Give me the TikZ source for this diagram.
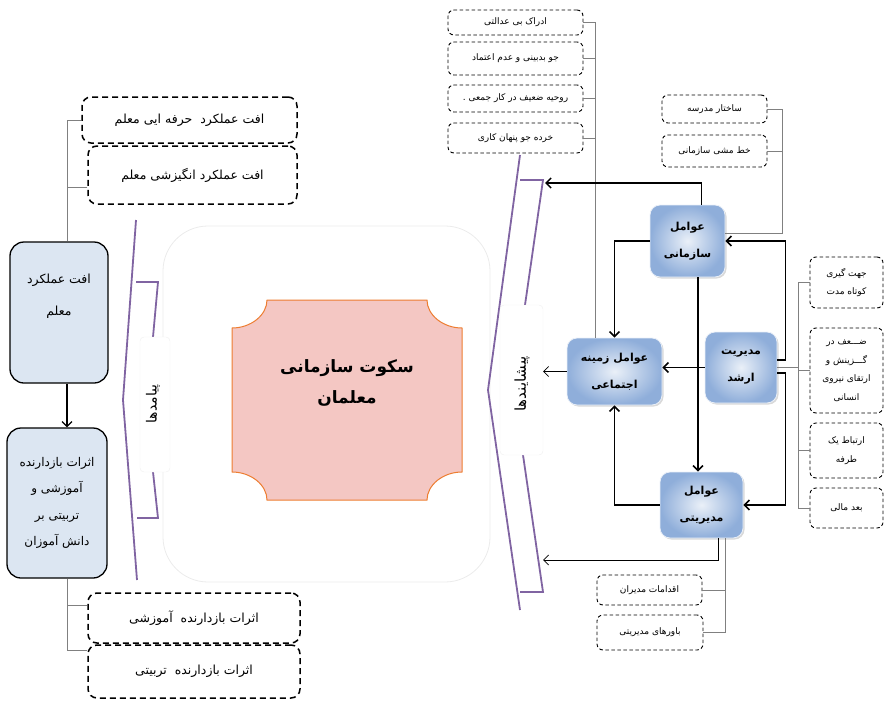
\documentclass[tikz,border=0pt]{standalone}
\usepackage{fontspec}
\usetikzlibrary{arrows.meta,positioning,shadows}
\newfontfamily\arabicfont[Script=Arabic]{DejaVu Sans}
\TeXXeTstate=1
\newcommand{\fatext}[1]{{\arabicfont\beginR #1\endR}}
\definecolor{lightbox}{HTML}{DCE6F2}
\definecolor{gradtop}{HTML}{8FAEDA}
\definecolor{gradlow}{HTML}{EAF0F8}
\definecolor{plaquefill}{HTML}{F4C7C3}
\definecolor{plaqueedge}{HTML}{ED7D31}
\definecolor{bracketcol}{HTML}{8064A2}
\definecolor{wirecol}{HTML}{808080}

\begin{document}
\begin{tikzpicture}[x=1pt,y=-1pt,every text node part/.style={align=center},
  bigdash/.style={draw,line width=1.5pt,dash pattern=on 6pt off 4pt,rounded corners=9pt,inner sep=0pt,font=\fontsize{12.5}{15}\selectfont},
  smalldash/.style={draw,line width=0.9pt,dash pattern=on 3.5pt off 2.5pt,rounded corners=6pt,inner sep=0pt,font=\fontsize{9}{18.5}\selectfont},
  lightblue/.style={draw,line width=1.3pt,fill=lightbox,rounded corners=14pt,inner sep=0pt},
  factor/.style={draw=gradlow,line width=0.8pt,rounded corners=10pt,inner sep=0pt,
    inner color=gradlow,outer color=gradtop,
    drop shadow={shadow xshift=1.5pt,shadow yshift=-1.5pt,opacity=0.3,fill=gray},
    font=\bfseries\fontsize{11}{27}\selectfont},
  wire/.style={draw=wirecol,line width=0.7pt},
  flow/.style={line width=1.5pt,-{Straight Barb[length=5pt,width=10pt]}},
  thinflow/.style={line width=0.8pt,-{Straight Barb[length=5pt,width=10pt]}}]
  \useasboundingbox (0,0) rectangle (888,701);

  % faint frame round the centre
  \draw[black!8,line width=0.8pt,rounded corners=45pt] (163,226) rectangle (490,582);

  % centre
  \draw[plaqueedge,fill=plaquefill,line width=1pt]
    (267,300) -- (427,300) .. controls (427,315) and (443,328) .. (462,328)
    -- (462,472) .. controls (443,472) and (427,485) .. (427,500)
    -- (267,500) .. controls (267,485) and (251,472) .. (232,472)
    -- (232,328) .. controls (251,328) and (267,315) .. (267,300) -- cycle;
  \node[font=\bfseries\fontsize{17}{31}\selectfont] (silence) at (347,383) {\fatext{سکوت سازمانی}\\\fatext{معلمان}};

  % left: outcomes
  \node[bigdash,minimum width=215,minimum height=46] (profdrop) at (189.5,120) {\fatext{افت عملکرد\ \ حرفه ایی معلم}};
  \node[bigdash,minimum width=209,minimum height=58] (motdrop) at (192.5,175) {\fatext{افت عملکرد انگیزشی معلم}};
  \node[lightblue,minimum width=98,minimum height=141] (tperf) at (59,312.5) {};
  \node[font=\fontsize{12.5}{32}\selectfont] (tperflabel) at (59,296) {\fatext{افت عملکرد}\\\fatext{معلم}};
  \node[lightblue,minimum width=100,minimum height=150,font=\fontsize{12}{26.5}\selectfont] (effects) at (57,503)
    {\fatext{اثرات بازدارنده}\\\fatext{آموزشی و}\\\fatext{تربیتی بر}\\\fatext{دانش آموزان}};
  \node[bigdash,minimum width=212,minimum height=50] (eduhold) at (194,618) {\fatext{اثرات بازدارنده\ \ آموزشی}};
  \node[bigdash,minimum width=212,minimum height=53] (nurthold) at (194,671.5) {\fatext{اثرات بازدارنده\ \ تربیتی}};

  \coordinate (lspine) at (67,0);
  \draw[wire] (profdrop.west) -| (tperf.north -| lspine);
  \draw[wire] ([yshift=-12pt]motdrop.west) -- ([yshift=-12pt]motdrop.west -| lspine);
  \draw[line width=1.2pt,-{Straight Barb[length=5pt,width=10pt]}] (tperf.south -| lspine) -- (effects.north -| lspine);
  \draw[wire] (effects.south -| lspine) |- ([yshift=21pt]nurthold.west);
  \draw[wire] ([yshift=13pt]eduhold.west -| lspine) -- ([yshift=13pt]eduhold.west);

  % left bracket
  \draw[bracketcol,line width=1.8pt] (136,220) -- (123,400) -- (137,580);
  \draw[bracketcol,line width=1.8pt] (136,282) -- (158,282) -- (153,337);
  \draw[bracketcol,line width=1.8pt] (153,472) -- (158,518) -- (137,518);
  \node[fill=white,draw=black!6,rounded corners=4pt,minimum width=30,minimum height=135] (outbox) at (155,404.5) {};
  \node[rotate=90,font=\fontsize{14}{16}\selectfont] (outlabel) at (153,404) {\fatext{پیامدها}};

  % right bracket
  \draw[bracketcol,line width=1.8pt] (520,155) -- (488,390) -- (520,610);
  \draw[bracketcol,line width=1.8pt] (520,180) -- (543,180) -- (525,305);
  \draw[bracketcol,line width=1.8pt] (523,455) -- (543,592) -- (520,592);
  \node[fill=white,draw=black!6,rounded corners=4pt,minimum width=43,minimum height=150] (inbox) at (521.5,380) {};
  \node[rotate=90,font=\fontsize{15}{17}\selectfont] (inlabel) at (522,384) {\fatext{پیشایندها}};
  \coordinate (rtop) at (545,183);
  \coordinate (rmid) at (543,373);
  \coordinate (rlow) at (543,560);

  % right: factors
  \node[factor,minimum width=75,minimum height=72] (sazmani) at (687.5,241) {\fatext{عوامل}\\\fatext{سازمانی}};
  \node[factor,minimum width=95,minimum height=67] (ejtemaei) at (614.5,371.5) {\fatext{عوامل زمینه}\\\fatext{اجتماعی}};
  \node[factor,minimum width=72,minimum height=71] (arshad) at (741,367.5) {\fatext{مدیریت}\\\fatext{ارشد}};
  \node[factor,minimum width=83,minimum height=66] (modiriati) at (701.5,505) {\fatext{عوامل}\\\fatext{مدیریتی}};

  \node[smalldash,minimum width=135,minimum height=25] (ineq) at (515.5,22.5) {\fatext{ادراک بی عدالتی}};
  \node[smalldash,minimum width=135,minimum height=33] (distrust) at (515.5,58.5) {\fatext{جو بدبینی و عدم اعتماد}};
  \node[smalldash,minimum width=135,minimum height=27] (teamwork) at (515.5,98.5) {\fatext{روحیه ضعیف در کار جمعی .}};
  \node[smalldash,minimum width=135,minimum height=30] (secrecy) at (515.5,138) {\fatext{خرده جو پنهان کاری}};
  \node[smalldash,minimum width=105,minimum height=28] (struct) at (714.5,109) {\fatext{ساختار مدرسه}};
  \node[smalldash,minimum width=105,minimum height=32] (policy) at (714.5,151) {\fatext{خط مشی سازمانی}};
  \node[smalldash,minimum width=73,minimum height=51] (shortterm) at (846.5,282.5) {\fatext{جهت گیری}\\\fatext{کوتاه مدت}};
  \node[smalldash,minimum width=73,minimum height=85] (recruit) at (846.5,370.5)
    {\fatext{ضـــعف در}\\\fatext{گـــزینش و}\\\fatext{ارتقای نیروی}\\\fatext{انسانی}};
  \node[smalldash,minimum width=73,minimum height=55] (oneway) at (846.5,450.5) {\fatext{ارتباط یک}\\\fatext{طرفه}};
  \node[smalldash,minimum width=73,minimum height=40] (finance) at (846.5,508) {\fatext{بعد مالی}};
  \node[smalldash,minimum width=105,minimum height=30] (actions) at (649.5,590) {\fatext{اقدامات مدیران}};
  \node[smalldash,minimum width=106,minimum height=35] (beliefs) at (650,632.5) {\fatext{باورهای مدیریتی}};

  % thin links to the factors
  \coordinate (topspine) at (595,0);
  \foreach \bx in {ineq,distrust,teamwork,secrecy}
    \draw[wire] (\bx.east) -- (\bx.east -| topspine);
  \draw[wire] (ineq.east -| topspine) -- (ejtemaei.north -| topspine);
  \coordinate (orgspine) at (782,0);
  \coordinate (orgjoin) at ([yshift=8pt]sazmani.east);
  \draw[wire] (struct.east) -| (orgspine |- orgjoin) -- (orgjoin);
  \draw[wire] (policy.east) -- (policy.east -| orgspine);
  \coordinate (mgmtspine) at (798,0);
  \draw[wire] (shortterm.west -| mgmtspine) |- (finance.west);
  \foreach \bx in {shortterm,recruit,oneway}
    \draw[wire] (\bx.west -| mgmtspine) -- (\bx.west);
  \draw[wire] (arshad.east) -- (arshad.east -| mgmtspine);
  \coordinate (botspine) at ([xshift=23.5pt]modiriati.south);
  \draw[wire] (botspine) |- (beliefs.east);
  \draw[wire] (actions.east) -- (actions.east -| botspine);

  % arrows between factors
  \draw[flow] ([xshift=14pt]sazmani.north) |- (rtop);
  \draw[flow] (sazmani.west) -| (ejtemaei.north);
  \draw[flow] ([yshift=7.5pt]arshad.east) -- ++(8,0) |- (sazmani.east);
  \draw[flow] ([yshift=-5.5pt]arshad.east) -- ++(8,0) |- (modiriati.east);
  \draw[flow] (arshad.west) -- (arshad.west -| ejtemaei.east);
  \draw[flow] ([xshift=10.5pt]sazmani.south) -- ([xshift=10.5pt]sazmani.south |- modiriati.north);
  \draw[flow] (modiriati.west) -| (ejtemaei.south);
  \draw[thinflow] (ejtemaei.west) -- (ejtemaei.west -| rmid);
  \draw[thinflow] ([xshift=16.5pt]modiriati.south) |- (rlow);
\end{tikzpicture}
\end{document}
